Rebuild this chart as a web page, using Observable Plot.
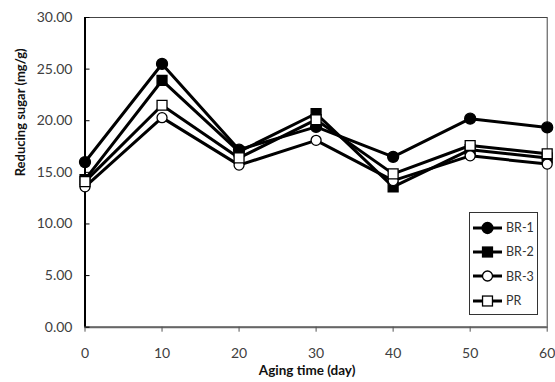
<!DOCTYPE html>
<html><head><meta charset="utf-8">
<script src="https://cdn.jsdelivr.net/npm/d3@7"></script>
<script src="https://cdn.jsdelivr.net/npm/@observablehq/plot@0.6"></script>
<style>
body{margin:0;background:#fff;}
#wrap{position:relative;width:555px;height:382px;font-family:Lato,"Open Sans",sans-serif;}
#legend{position:absolute;left:469px;top:212px;width:67px;height:101px;border:1.5px solid #333;background:#fff;}
.row{position:absolute;left:0;height:20px;display:flex;align-items:center;}
.row svg{display:block;}
.row span{font-size:12.5px;color:#333;margin-left:3px;}
</style>
</head><body>
<div id="wrap"></div>
<script>
const days = [0, 10, 20, 30, 40, 50, 60];
const seriesNames = ["BR-1", "BR-2", "BR-3", "PR"];
const br1 = [16.0, 25.5, 17.2, 19.4, 16.5, 20.2, 19.35];
const br2 = [14.3, 23.9, 17.0, 20.7, 13.6, 17.2, 16.4];
const br3 = [13.6, 20.3, 15.7, 18.1, 14.2, 16.6, 15.8];
const pr  = [14.1, 21.5, 16.4, 20.1, 14.85, 17.6, 16.8];
const xTicks = [0, 10, 20, 30, 40, 50, 60];
const yTicks = [0, 5, 10, 15, 20, 25, 30];
const xTitle = "Aging time (day)";
const yTitle = "Reducing sugar (mg/g)";

const seriesValues = [br1, br2, br3, pr];
const symbols = {"BR-1": "circle", "BR-2": "square", "BR-3": "circle", "PR": "square"};
const fills = {"BR-1": "black", "BR-2": "black", "BR-3": "white", "PR": "white"};
const radii = {"BR-1": 5.5, "BR-2": 5.6, "BR-3": 5, "PR": 5.6};

const data = [];
seriesNames.forEach((s, i) => days.forEach((d, j) => data.push({series: s, day: d, value: seriesValues[i][j]})));

const W = 555, H = 382, mL = 84.5, mR = 8.3, mT = 17, mB = 55.3;
const frameW = W - mL - mR;

const marks = [
  Plot.frame({stroke: "#444", strokeWidth: 1}),
  Plot.ruleY([0], {stroke: "#666", strokeWidth: 2}),
  Plot.ruleX([0], {stroke: "black", strokeWidth: 2}),
  Plot.tickY(yTicks, {y: d => d, stroke: "black", strokeWidth: 1, insetRight: frameW - 5}),
  Plot.axisY({ticks: yTicks, tickSize: 0, tickPadding: 12.5, tickFormat: d3.format(".2f"), fontSize: 14, fill: "#404040", label: null}),
  Plot.axisX({ticks: xTicks, tickSize: 5, tickPadding: 16, fontSize: 14, fill: "#404040", stroke: "#555", label: null}),
  Plot.line(data, {x: "day", y: "value", z: "series", stroke: "black", strokeWidth: 3, strokeLinejoin: "round"}),
  ...seriesNames.map(s => Plot.dot(data.filter(d => d.series === s), {
    x: "day", y: "value", symbol: () => symbols[s], r: radii[s], fill: fills[s], stroke: "black", strokeWidth: 1.3
  })),
  Plot.text([xTitle], {frameAnchor: "bottom", dx: -9, dy: 48, fontSize: 13.5, fontWeight: "bold", fill: "#111", text: d => d}),
  Plot.text([yTitle], {frameAnchor: "left", dx: -64, dy: 4, rotate: -90, fontSize: 13, fontWeight: "bold", fill: "#111", text: d => d})
];

const chart = Plot.plot({
  width: W, height: H,
  marginLeft: mL, marginRight: mR, marginTop: mT, marginBottom: mB,
  style: {fontFamily: "Lato, 'Open Sans', sans-serif", background: "white"},
  x: {domain: [0, 60]},
  y: {domain: [0, 30]},
  symbol: {type: "identity"},
  marks
});
const wrap = document.getElementById("wrap");
wrap.appendChild(chart);

// legend
const legend = document.createElement("div");
legend.id = "legend";
seriesNames.forEach((s, i) => {
  const row = document.createElement("div");
  row.className = "row";
  row.style.top = (4.5 + i * 24.4) + "px";
  const svg = d3.create("svg").attr("width", 33).attr("height", 20);
  svg.append("line").attr("x1", 3).attr("x2", 32).attr("y1", 10).attr("y2", 10).attr("stroke", "black").attr("stroke-width", 3);
  if (symbols[s] === "circle") {
    svg.append("circle").attr("cx", 17.5).attr("cy", 10).attr("r", radii[s]).attr("fill", fills[s]).attr("stroke", "black").attr("stroke-width", 1.3);
  } else {
    const side = radii[s] * Math.sqrt(Math.PI);
    svg.append("rect").attr("x", 17.5 - side / 2).attr("y", 10 - side / 2).attr("width", side).attr("height", side).attr("fill", fills[s]).attr("stroke", "black").attr("stroke-width", 1.3);
  }
  row.appendChild(svg.node());
  const label = document.createElement("span");
  label.textContent = s;
  row.appendChild(label);
  legend.appendChild(row);
});
wrap.appendChild(legend);
</script>
</body></html>
